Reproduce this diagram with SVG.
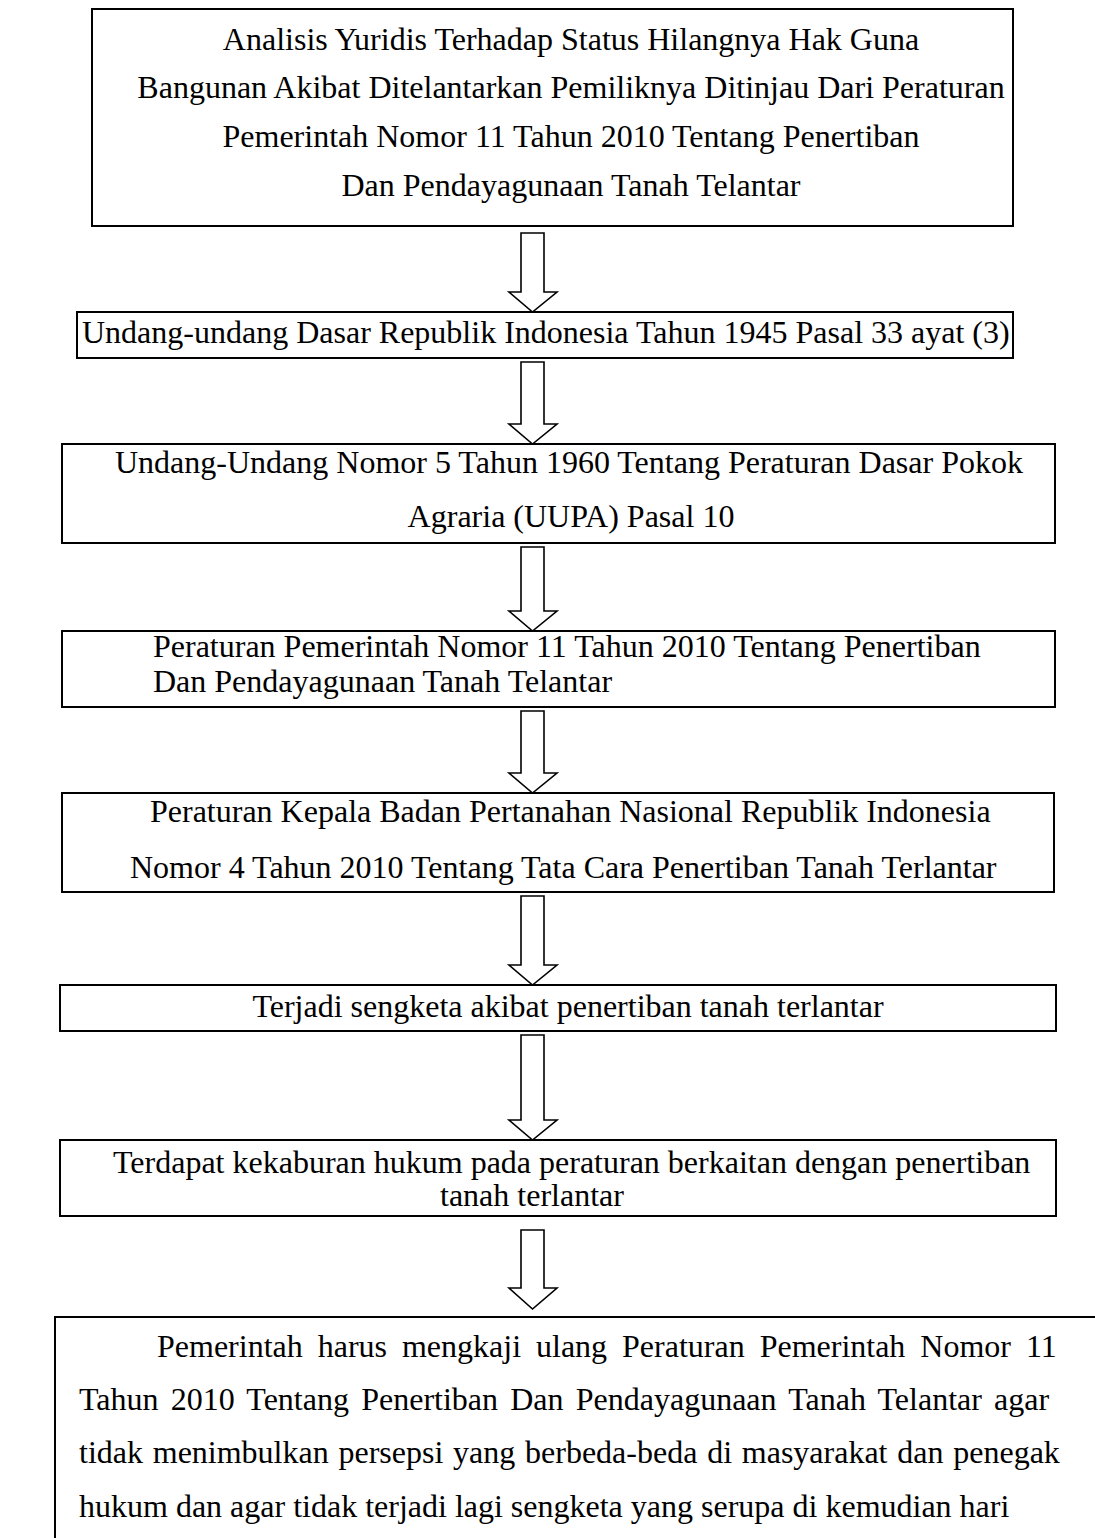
<svg xmlns="http://www.w3.org/2000/svg" width="1095" height="1538" viewBox="0 0 1095 1538">
<style>
.box{fill:#fff;stroke:#000;stroke-width:2}
.t{font-family:"Liberation Serif","Times New Roman",serif;font-size:32px;fill:#000}
.c{text-anchor:middle}
.arr{fill:#fff;stroke:#000;stroke-width:1.6;stroke-linejoin:miter}
</style>
<rect width="1095" height="1538" fill="#fff"/>
<g id="connectors">
<path class="arr" d="M521,233 V292 H509 L532.5,312 L557,292 H544 V233 Z"/>
<path class="arr" d="M521,362 V424 H509 L532.5,444 L557,424 H544 V362 Z"/>
<path class="arr" d="M521,547 V611 H509 L532.5,631 L557,611 H544 V547 Z"/>
<path class="arr" d="M521,711 V773 H509 L532.5,793 L557,773 H544 V711 Z"/>
<path class="arr" d="M521,896 V965 H509 L532.5,985 L557,965 H544 V896 Z"/>
<path class="arr" d="M521,1035 V1120 H509 L532.5,1140 L557,1120 H544 V1035 Z"/>
<path class="arr" d="M521,1230 V1288 H509 L532.5,1309 L557,1288 H544 V1230 Z"/>
</g>
<g id="node1">
<rect class="box" x="92" y="9" width="921" height="217"/>
<text class="t c" x="571" y="50">Analisis Yuridis Terhadap Status Hilangnya Hak Guna</text>
<text class="t c" x="571" y="98">Bangunan Akibat Ditelantarkan Pemiliknya Ditinjau Dari Peraturan</text>
<text class="t c" x="571" y="147">Pemerintah Nomor 11 Tahun 2010 Tentang Penertiban</text>
<text class="t c" x="571" y="196">Dan Pendayagunaan Tanah Telantar</text>
</g>
<g id="node2">
<rect class="box" x="77" y="312" width="936" height="46"/>
<text class="t" x="82" y="343">Undang-undang Dasar Republik Indonesia Tahun 1945 Pasal 33 ayat (3)</text>
</g>
<g id="node3">
<rect class="box" x="62" y="444" width="993" height="99"/>
<text class="t" x="115" y="473">Undang-Undang Nomor 5 Tahun 1960 Tentang Peraturan Dasar Pokok</text>
<text class="t c" x="571" y="527">Agraria (UUPA) Pasal 10</text>
</g>
<g id="node4">
<rect class="box" x="62" y="631" width="993" height="76"/>
<text class="t" x="153" y="657">Peraturan Pemerintah Nomor 11 Tahun 2010 Tentang Penertiban</text>
<text class="t" x="153" y="692">Dan Pendayagunaan Tanah Telantar</text>
</g>
<g id="node5">
<rect class="box" x="62" y="793" width="992" height="99"/>
<text class="t" x="150" y="822">Peraturan Kepala Badan Pertanahan Nasional Republik Indonesia</text>
<text class="t" x="130" y="878">Nomor 4 Tahun 2010 Tentang Tata Cara Penertiban Tanah Terlantar</text>
</g>
<g id="node6">
<rect class="box" x="60" y="985" width="996" height="46"/>
<text class="t c" x="568" y="1017">Terjadi sengketa akibat penertiban tanah terlantar</text>
</g>
<g id="node7">
<rect class="box" x="60" y="1140" width="996" height="76"/>
<text class="t" x="113" y="1173">Terdapat kekaburan hukum pada peraturan berkaitan dengan penertiban</text>
<text class="t" x="440" y="1206">tanah terlantar</text>
</g>
<g id="node8">
<rect class="box" x="55" y="1317" width="1060" height="240"/>
<text class="t" x="157" y="1357" word-spacing="6.96">Pemerintah harus mengkaji ulang Peraturan Pemerintah Nomor 11</text>
<text class="t" x="79" y="1410" word-spacing="4.21">Tahun 2010 Tentang Penertiban Dan Pendayagunaan Tanah Telantar agar</text>
<text class="t" x="79" y="1463" word-spacing="1.76">tidak menimbulkan persepsi yang berbeda-beda di masyarakat dan penegak</text>
<text class="t" x="79" y="1517">hukum dan agar tidak terjadi lagi sengketa yang serupa di kemudian hari</text>
</g>
</svg>
